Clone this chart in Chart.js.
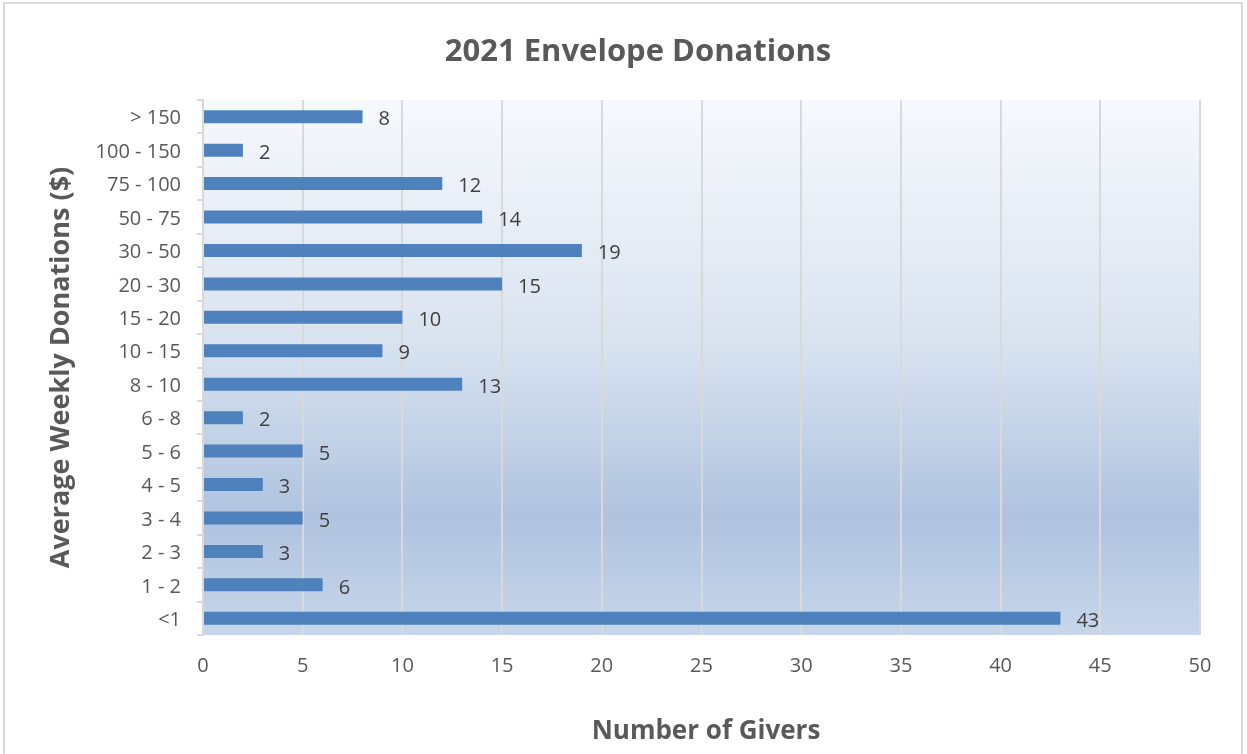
<!DOCTYPE html>
<html>
<head>
<meta charset="utf-8">
<script src="https://cdn.jsdelivr.net/npm/chart.js@4"></script>
<style>
  html, body { margin: 0; padding: 0; background: #ffffff; }
  #wrap { position: relative; width: 1247px; height: 754px; }
</style>
</head>
<body>
<div id="wrap"><canvas id="c" width="1247" height="754"></canvas></div>
<script>
const categories = ["> 150", "100 - 150", "75 - 100", "50 - 75", "30 - 50", "20 - 30", "15 - 20", "10 - 15", "8 - 10", "6 - 8", "5 - 6", "4 - 5", "3 - 4", "2 - 3", "1 - 2", "<1"];
const givers = [8, 2, 12, 14, 19, 15, 10, 9, 13, 2, 5, 3, 5, 3, 6, 43];
const xTicks = [0, 5, 10, 15, 20, 25, 30, 35, 40, 45, 50];
const chartTitle = "2021 Envelope Donations";
const xTitle = "Number of Givers";
const yTitle = "Average Weekly Donations ($)";

const FONT = "'Open Sans', 'Noto Sans', sans-serif";

const decor = {
  id: 'decor',
  beforeDraw(chart) {
    const ctx = chart.ctx;
    const a = chart.chartArea;
    ctx.save();
    ctx.fillStyle = '#ffffff';
    ctx.fillRect(0, 0, chart.width, chart.height);
    ctx.strokeStyle = '#d9d9d9';
    ctx.lineWidth = 2;
    ctx.strokeRect(4, 3, 1238, 800);
    const g = ctx.createLinearGradient(0, a.top, 0, a.bottom);
    g.addColorStop(0, '#f6f9fd');
    g.addColorStop(0.45, '#d9e3f0');
    g.addColorStop(0.78, '#afc3df');
    g.addColorStop(1, '#c7d6ea');
    ctx.fillStyle = g;
    ctx.fillRect(a.left, a.top, a.right - a.left, a.bottom - a.top);
    ctx.restore();
  },
  afterDraw(chart) {
    const ctx = chart.ctx;
    const a = chart.chartArea;
    ctx.save();
    ctx.fillStyle = '#595959';
    ctx.textAlign = 'center';
    ctx.textBaseline = 'middle';
    ctx.font = "bold 31px " + FONT;
    ctx.fillText(chartTitle, 638, 52);
    ctx.font = "bold 26px " + FONT;
    ctx.fillText(xTitle, 706, 732);
    ctx.font = "bold 27px " + FONT;
    ctx.translate(61, (a.top + a.bottom) / 2);
    ctx.rotate(-Math.PI / 2);
    ctx.fillText(yTitle, 0, 0);
    ctx.restore();
    // value labels
    const meta = chart.getDatasetMeta(0);
    ctx.save();
    ctx.fillStyle = '#404040';
    ctx.font = "20px " + FONT;
    ctx.textAlign = 'left';
    ctx.textBaseline = 'middle';
    meta.data.forEach((bar, i) => {
      ctx.fillText(String(givers[i]), bar.x + 16, bar.y + 3);
    });
    ctx.restore();
  }
};

new Chart(document.getElementById('c'), {
  type: 'bar',
  data: {
    labels: categories,
    datasets: [{
      data: givers,
      backgroundColor: '#4f81bd',
      borderWidth: 0,
      categoryPercentage: 1,
      barPercentage: 0.39
    }]
  },
  options: {
    indexAxis: 'y',
    responsive: false,
    animation: false,
    devicePixelRatio: 1,
    layout: { padding: { top: 100, right: 47, bottom: 0, left: 0 } },
    plugins: {
      legend: { display: false },
      title: { display: false },
      tooltip: { enabled: false }
    },
    scales: {
      x: {
        min: 0,
        max: 50,
        afterFit(scale) { scale.height = 119; },
        afterBuildTicks(scale) { scale.ticks = xTicks.map(v => ({ value: v })); },
        grid: { color: '#d9d9d9', lineWidth: 2, drawTicks: false },
        border: { display: false },
        ticks: { color: '#595959', font: { size: 20, family: FONT }, padding: 19 }
      },
      y: {
        afterFit(scale) { scale.width = 203; },
        grid: { display: true, drawOnChartArea: false, drawTicks: true, tickLength: 6, offset: true, color: '#d9d9d9', lineWidth: 2 },
        border: { display: true, color: '#d9d9d9', width: 2 },
        ticks: { color: '#595959', font: { size: 20, family: FONT }, padding: 16, labelOffset: 2, autoSkip: false }
      }
    }
  },
  plugins: [decor]
});
</script>
</body>
</html>
